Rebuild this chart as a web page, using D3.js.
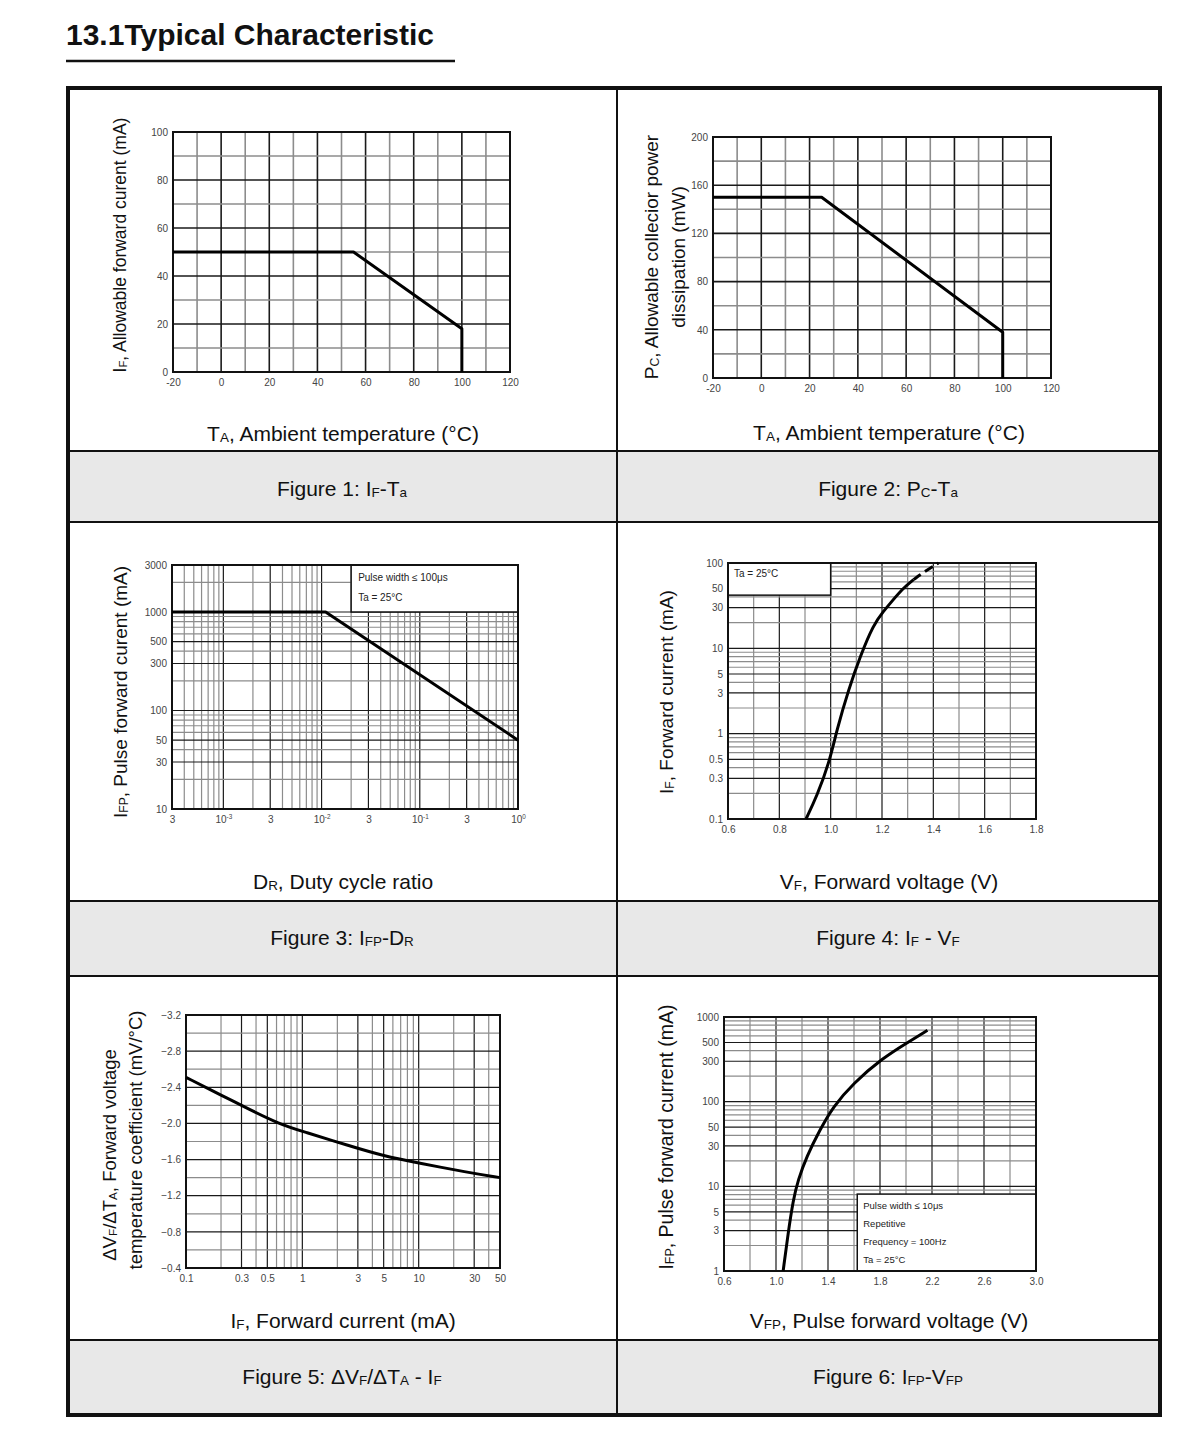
<!DOCTYPE html>
<html><head><meta charset="utf-8">
<script src="https://cdn.jsdelivr.net/npm/d3@7"></script>
<style>body{margin:0;background:#fff} text{font-family:"Liberation Sans",Arial,sans-serif}</style>
</head><body><svg id="c" width="1200" height="1436"></svg>
<script>
// ---------- DATA ----------
const fig1XTicks = [-20, 0, 20, 40, 60, 80, 100, 120];
const fig1YTicks = [0, 20, 40, 60, 80, 100];
const fig1Temp = [-20, 55, 100, 100];
const fig1Current = [50, 50, 18, 0];

const fig2XTicks = [-20, 0, 20, 40, 60, 80, 100, 120];
const fig2YTicks = [0, 40, 80, 120, 160, 200];
const fig2Temp = [-20, 25, 100, 100];
const fig2Power = [150, 150, 38, 0];

const fig3XTicks = [3e-4, 1e-3, 3e-3, 1e-2, 3e-2, 1e-1, 3e-1, 1];
const fig3YTicks = [10, 30, 50, 100, 300, 500, 1000, 3000];
const fig3Duty = [3e-4, 0.011, 1];
const fig3Current = [1000, 1000, 50];
const fig3Legend = ["Pulse width \u2264 100\u03bcs", "Ta = 25\u00b0C"];

const fig4XTicks = [0.6, 0.8, 1.0, 1.2, 1.4, 1.6, 1.8];
const fig4YTicks = [0.1, 0.3, 0.5, 1, 3, 5, 10, 30, 50, 100];
const fig4Voltage = [0.904, 0.946, 0.994, 1.024, 1.07, 1.115, 1.167, 1.205, 1.24, 1.28, 1.323];
const fig4Current = [0.1, 0.185, 0.45, 1.11, 3.3, 8.05, 19, 27, 36, 50, 63.8];
const fig4DashVoltage = [1.323, 1.361, 1.42];
const fig4DashCurrent = [63.8, 77.6, 100];
const fig4Legend = ["Ta = 25\u00b0C"];

const fig5XTicks = [0.1, 0.3, 0.5, 1, 3, 5, 10, 30, 50];
const fig5YTicks = [-3.2, -2.8, -2.4, -2.0, -1.6, -1.2, -0.8, -0.4];
const fig5Current = [0.1, 0.21, 0.31, 0.64, 1.02, 2.57, 4.97, 10.2, 25.8, 50];
const fig5Coeff = [-2.51, -2.30, -2.19, -1.99, -1.91, -1.75, -1.64, -1.56, -1.46, -1.40];

const fig6XTicks = [0.6, 1.0, 1.4, 1.8, 2.2, 2.6, 3.0];
const fig6YTicks = [1, 3, 5, 10, 30, 50, 100, 300, 500, 1000];
const fig6Voltage = [1.055, 1.093, 1.132, 1.170, 1.235, 1.337, 1.44, 1.594, 1.82, 2.005, 2.165];
const fig6Current = [1, 2.77, 6.87, 11.9, 22.4, 46.3, 87.5, 165, 327, 492, 696];
const fig6Legend = ["Pulse width \u2264 10\u03bcs", "Repetitive", "Frequency = 100Hz", "Ta = 25\u00b0C"];

// ---------- HELPERS ----------
const FONT = "'Liberation Sans', Arial, sans-serif";
const svg = d3.select("#c");
svg.append("rect").attr("width", 1200).attr("height", 1436).attr("fill", "#fff");

function rich(sel, parts, size) {
  let shift = 0;
  parts.forEach(([s, t]) => {
    const target = t === "sub" ? size * 0.06 : t === "sup" ? -size * 0.4 : 0;
    const ts = sel.append("tspan").text(s);
    if (target !== shift) ts.attr("dy", target - shift);
    if (t) ts.attr("font-size", size * 0.64);
    shift = target;
  });
  return sel;
}
function label(x, y, parts, size, rotate) {
  const t = svg.append("text").attr("font-size", size).attr("fill", "#111")
    .attr("font-family", FONT).attr("text-anchor", "middle")
    .attr("transform", `translate(${x},${y})` + (rotate ? " rotate(-90)" : ""));
  return rich(t, parts, size);
}
function linGrid(lo, hi, step) {
  const out = []; const n = Math.round((hi - lo) / step);
  for (let i = 0; i <= n; i++) out.push(+(lo + i * step).toFixed(6));
  return out;
}
function logGrid(lo, hi) {
  const out = [];
  for (let d = Math.floor(Math.log10(lo)); d <= Math.ceil(Math.log10(hi)); d++) {
    for (let k = 1; k <= 9; k++) {
      const v = k * Math.pow(10, d);
      if (v >= lo * 0.999 && v <= hi * 1.001) out.push(v);
    }
  }
  return out;
}
const near = (a, b) => Math.abs(a - b) <= 1e-9 + Math.abs(b) * 1e-6;

function chart(c) {
  const g = svg.append("g");
  const [x0, x1] = c.x.range(), [y0, y1] = c.y.range();
  const gw = c.gridWidth || 1.2;
  c.xGrid.forEach(v => {
    const dark = c.xDark(v);
    g.append("line").attr("x1", c.x(v)).attr("x2", c.x(v)).attr("y1", y0).attr("y2", y1)
      .attr("stroke", dark ? "#1a1a1a" : "#8c8c8c").attr("stroke-width", gw);
  });
  c.yGrid.forEach(v => {
    const dark = c.yDark(v);
    g.append("line").attr("x1", x0).attr("x2", x1).attr("y1", c.y(v)).attr("y2", c.y(v))
      .attr("stroke", dark ? "#1a1a1a" : "#8c8c8c").attr("stroke-width", gw);
  });
  if (c.legend) {
    const L = c.legend;
    const bx0 = c.x(L.x[0]), bx1 = c.x(L.x[1]), by0 = c.y(L.y[1]), by1 = c.y(L.y[0]);
    g.append("rect").attr("x", bx0).attr("y", by0).attr("width", bx1 - bx0).attr("height", by1 - by0)
      .attr("fill", "#fff").attr("stroke", "#111").attr("stroke-width", 1.5);
    L.lines.forEach((s, i) => {
      g.append("text").attr("x", bx0 + L.pad).attr("y", by0 + L.first + i * L.gap)
        .attr("font-family", FONT).attr("font-size", L.size).attr("fill", "#222").text(s);
    });
  }
  g.append("rect").attr("x", x0).attr("y", y1).attr("width", x1 - x0).attr("height", y0 - y1)
    .attr("fill", "none").attr("stroke", "#111").attr("stroke-width", 2);
  c.series.forEach(sr => {
    const line = d3.line().x(d => c.x(d[0])).y(d => c.y(d[1])).curve(sr.curve || d3.curveLinear);
    g.append("path").attr("d", line(d3.zip(sr.xs, sr.ys))).attr("fill", "none")
      .attr("stroke", "#000").attr("stroke-width", 3).attr("stroke-linejoin", "round")
      .attr("stroke-dasharray", sr.dash || null);
  });
  const ax = g.append("g").attr("transform", `translate(0,${y0 + 4})`)
    .call(d3.axisBottom(c.x).tickValues(c.xTicks).tickSize(0).tickFormat(c.xFmt || (d => d)));
  const ay = g.append("g").attr("transform", `translate(${x0 - 2},0)`)
    .call(d3.axisLeft(c.y).tickValues(c.yTicks).tickSize(0).tickFormat(c.yFmt || (d => d)));
  [ax, ay].forEach(a => {
    a.select(".domain").remove();
    a.selectAll("text").attr("font-size", 10).attr("fill", "#444").attr("font-family", FONT);
  });
  return { g, ax, ay };
}
const smooth = d3.curveBasis;

// ---------- TITLE & TABLE ----------
svg.append("text").attr("x", 66).attr("y", 45).attr("font-size", 30).attr("font-weight", "bold")
  .attr("font-family", FONT).attr("fill", "#111").text("13.1Typical Characteristic");
svg.append("line").attr("x1", 66).attr("x2", 455).attr("y1", 61).attr("y2", 61)
  .attr("stroke", "#111").attr("stroke-width", 2.5);

const capRows = [[451, 522], [901, 976], [1340, 1415]];
capRows.forEach(([a, b]) => svg.append("rect").attr("x", 68).attr("y", a).attr("width", 1092).attr("height", b - a).attr("fill", "#e8e8e8"));
[451, 522, 901, 976, 1340].forEach(yy => svg.append("line").attr("x1", 68).attr("x2", 1160).attr("y1", yy).attr("y2", yy).attr("stroke", "#111").attr("stroke-width", 2));
svg.append("line").attr("x1", 617).attr("x2", 617).attr("y1", 88).attr("y2", 1415).attr("stroke", "#111").attr("stroke-width", 2);
svg.append("rect").attr("x", 68).attr("y", 88).attr("width", 1092).attr("height", 1327)
  .attr("fill", "none").attr("stroke", "#111").attr("stroke-width", 4);

// ---------- FIGURE 1 ----------
const x1s = d3.scaleLinear().domain([-20, 120]).range([173, 510]);
const y1s = d3.scaleLinear().domain([0, 100]).range([372, 132]);
chart({
  x: x1s, y: y1s, gridWidth: 1.6,
  xGrid: linGrid(-20, 120, 10), yGrid: linGrid(0, 100, 10),
  xDark: v => fig1XTicks.some(t => near(v, t)), yDark: v => fig1YTicks.some(t => near(v, t)),
  xTicks: fig1XTicks, yTicks: fig1YTicks,
  series: [{ xs: fig1Temp, ys: fig1Current }]
});
label(343, 441, [["T", ""], ["A", "sub"], [", Ambient temperature (\u00b0C)", ""]], 21);
label(126, 245, [["I", ""], ["F", "sub"], [", Allowable forward curent (mA)", ""]], 17.5, true);
label(342, 496, [["Figure 1: I", ""], ["F", "sub"], ["-T", ""], ["a", "sub"]], 21);

// ---------- FIGURE 2 ----------
const x2s = d3.scaleLinear().domain([-20, 120]).range([713, 1051]);
const y2s = d3.scaleLinear().domain([0, 200]).range([378, 137]);
chart({
  x: x2s, y: y2s, gridWidth: 1.6,
  xGrid: linGrid(-20, 120, 10), yGrid: linGrid(0, 200, 20),
  xDark: v => fig2XTicks.some(t => near(v, t)), yDark: v => fig2YTicks.some(t => near(v, t)),
  xTicks: fig2XTicks, yTicks: fig2YTicks,
  series: [{ xs: fig2Temp, ys: fig2Power }]
});
label(889, 440, [["T", ""], ["A", "sub"], [", Ambient temperature (\u00b0C)", ""]], 21);
label(658, 257, [["P", ""], ["C", "sub"], [", Allowable collecior power", ""]], 19, true);
label(685, 257, [["dissipation (mW)", ""]], 19, true);
label(888, 496, [["Figure 2: P", ""], ["C", "sub"], ["-T", ""], ["a", "sub"]], 21);

// ---------- FIGURE 3 ----------
const x3s = d3.scaleLog().domain([3e-4, 1]).range([172, 518]);
const y3s = d3.scaleLog().domain([10, 3000]).range([809, 565]);
const f3 = chart({
  x: x3s, y: y3s, gridWidth: 1.2,
  xGrid: logGrid(3e-4, 1), yGrid: logGrid(10, 3000),
  xDark: v => fig3XTicks.some(t => near(v, t)), yDark: v => fig3YTicks.some(t => near(v, t)),
  xTicks: fig3XTicks, yTicks: fig3YTicks,
  xFmt: d => "",
  legend: { x: [0.02, 1], y: [1000, 3000], lines: fig3Legend, pad: 7, first: 16, gap: 20, size: 10 },
  series: [{ xs: fig3Duty, ys: fig3Current }]
});
f3.ax.selectAll("text").each(function (d) {
  const t = d3.select(this);
  const e = Math.round(Math.log10(d));
  if (near(d, Math.pow(10, e))) rich(t, [["10", ""], [String(e), "sup"]], 10);
  else t.text(String(Math.round(d / Math.pow(10, Math.floor(Math.log10(d))))));
});
label(343, 889, [["D", ""], ["R", "sub"], [", Duty cycle ratio", ""]], 21);
label(127, 692, [["I", ""], ["FP", "sub"], [", Pulse forward curent (mA)", ""]], 19, true);
label(342, 945, [["Figure 3: I", ""], ["FP", "sub"], ["-D", ""], ["R", "sub"]], 21);

// ---------- FIGURE 4 ----------
const x4s = d3.scaleLinear().domain([0.6, 1.8]).range([728, 1036]);
const y4s = d3.scaleLog().domain([0.1, 100]).range([819, 563]);
chart({
  x: x4s, y: y4s, gridWidth: 1.2,
  xGrid: linGrid(0.6, 1.8, 0.1), yGrid: logGrid(0.1, 100),
  xDark: v => fig4XTicks.some(t => near(v, t)), yDark: v => fig4YTicks.some(t => near(v, t)),
  xTicks: fig4XTicks, yTicks: fig4YTicks,
  xFmt: d3.format(".1f"), yFmt: d => String(d),
  legend: { x: [0.6, 1.0], y: [42, 100], lines: fig4Legend, pad: 6, first: 14, gap: 18, size: 10 },
  series: [
    { xs: fig4Voltage, ys: fig4Current, curve: smooth },
    { xs: fig4DashVoltage, ys: fig4DashCurrent, curve: smooth, dash: "9,5" }
  ]
});
label(889, 889, [["V", ""], ["F", "sub"], [", Forward voltage (V)", ""]], 21);
label(673, 692, [["I", ""], ["F", "sub"], [", Forward current (mA)", ""]], 19, true);
label(888, 945, [["Figure 4: I", ""], ["F", "sub"], [" - V", ""], ["F", "sub"]], 21);

// ---------- FIGURE 5 ----------
const x5s = d3.scaleLog().domain([0.1, 50]).range([186, 500]);
const y5s = d3.scaleLinear().domain([-0.4, -3.2]).range([1268, 1015]);
chart({
  x: x5s, y: y5s, gridWidth: 1.2,
  xGrid: logGrid(0.1, 50), yGrid: linGrid(-3.2, -0.4, 0.2),
  xDark: v => fig5XTicks.some(t => near(v, t)), yDark: v => fig5YTicks.some(t => near(v, t)),
  xTicks: fig5XTicks, yTicks: fig5YTicks,
  xFmt: d => String(d), yFmt: d3.format(".1f"),
  series: [{ xs: fig5Current, ys: fig5Coeff, curve: smooth }]
});
label(343, 1328, [["I", ""], ["F", "sub"], [", Forward current (mA)", ""]], 21);
label(116, 1155, [["\u0394V", ""], ["F", "sub"], ["/\u0394T", ""], ["A", "sub"], [", Forward voltage", ""]], 18.5, true);
label(142, 1140, [["temperature coefficient (mV/\u00b0C)", ""]], 18.5, true);
label(342, 1384, [["Figure 5: \u0394V", ""], ["F", "sub"], ["/\u0394T", ""], ["A", "sub"], [" - I", ""], ["F", "sub"]], 21);

// ---------- FIGURE 6 ----------
const x6s = d3.scaleLinear().domain([0.6, 3.0]).range([724, 1036]);
const y6s = d3.scaleLog().domain([1, 1000]).range([1271, 1017]);
chart({
  x: x6s, y: y6s, gridWidth: 1.2,
  xGrid: linGrid(0.6, 3.0, 0.2), yGrid: logGrid(1, 1000),
  xDark: v => fig6XTicks.some(t => near(v, t)), yDark: v => fig6YTicks.some(t => near(v, t)),
  xTicks: fig6XTicks, yTicks: fig6YTicks,
  xFmt: d3.format(".1f"), yFmt: d => String(d),
  legend: { x: [1.625, 3.0], y: [1, 8.1], lines: fig6Legend, pad: 6, first: 15, gap: 18, size: 9.5 },
  series: [{ xs: fig6Voltage, ys: fig6Current, curve: smooth }]
});
label(889, 1328, [["V", ""], ["FP", "sub"], [", Pulse forward voltage (V)", ""]], 21);
label(673, 1137, [["I", ""], ["FP", "sub"], [", Pulse forward current (mA)", ""]], 19.5, true);
label(888, 1384, [["Figure 6: I", ""], ["FP", "sub"], ["-V", ""], ["FP", "sub"]], 21);
</script></body></html>
